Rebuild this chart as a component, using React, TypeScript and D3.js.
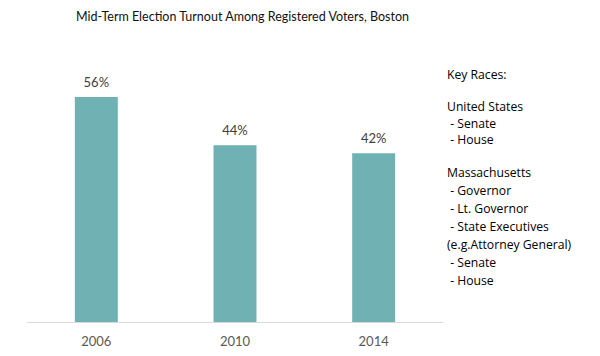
import React from "react";
import * as d3 from "d3";

const years = ["2006", "2010", "2014"];
const turnout = [56, 44, 42];
const title = "Mid-Term Election Turnout Among Registered Voters, Boston";
const legendHeader = ["Key Races:"];
const legendUS = ["United States", " - Senate", " - House"];
const legendMA = [
  "Massachusetts",
  " - Governor",
  " - Lt. Governor",
  " - State Executives",
  "(e.g.Attorney General)",
  " - Senate",
  " - House",
];

const W = 600;
const H = 356;
const left = 27;
const right = 443;
const baseY = 322;

export default function App() {
  const x = d3
    .scaleBand<string>()
    .domain(years)
    .range([left, right])
    .paddingInner(0.69)
    .paddingOuter(0.345);
  const y = d3.scaleLinear().domain([0, 56]).range([baseY, 97]);
  const barColor = "#70b2b3";
  const legendFont = "'Open Sans', sans-serif";
  const chartFont = "Lato, 'Open Sans', sans-serif";

  return (
    <svg
      width={W}
      height={H}
      style={{ position: "absolute", left: 0, top: 0, background: "#fff" }}
    >
      <text
        x={76}
        y={21}
        fontFamily={chartFont}
        fontSize={14}
        fill="#111"
        textLength={333}
        lengthAdjust="spacingAndGlyphs"
      >
        {title}
      </text>
      {years.map((yr, i) => (
        <g key={yr}>
          <rect
            x={x(yr)}
            y={y(turnout[i])}
            width={x.bandwidth()}
            height={baseY - y(turnout[i])}
            fill={barColor}
          />
          <text
            x={(x(yr) as number) + x.bandwidth() / 2}
            y={y(turnout[i]) - 10}
            textAnchor="middle"
            fontFamily={chartFont}
            fontSize={13}
            fill="#404040"
          >
            {turnout[i]}%
          </text>
          <text
            x={(x(yr) as number) + x.bandwidth() / 2}
            y={346}
            textAnchor="middle"
            fontFamily={chartFont}
            fontSize={13}
            fill="#595959"
          >
            {yr}
          </text>
        </g>
      ))}
      <line x1={left} x2={right} y1={baseY + 0.5} y2={baseY + 0.5} stroke="#d9d9d9" strokeWidth={1} />
      <g fontFamily={legendFont} fontSize={12.2} fill="#000">
        {legendHeader.map((t, i) => (
          <text key={"h" + i} x={447} y={79 + i * 17} style={{ whiteSpace: "pre" }}>
            {t}
          </text>
        ))}
        {legendUS.map((t, i) => (
          <text key={"u" + i} x={447} y={111 + i * 16.5} style={{ whiteSpace: "pre" }}>
            {t}
          </text>
        ))}
        {legendMA.map((t, i) => (
          <text key={"m" + i} x={447} y={177 + i * 18} style={{ whiteSpace: "pre" }}>
            {t}
          </text>
        ))}
      </g>
    </svg>
  );
}
